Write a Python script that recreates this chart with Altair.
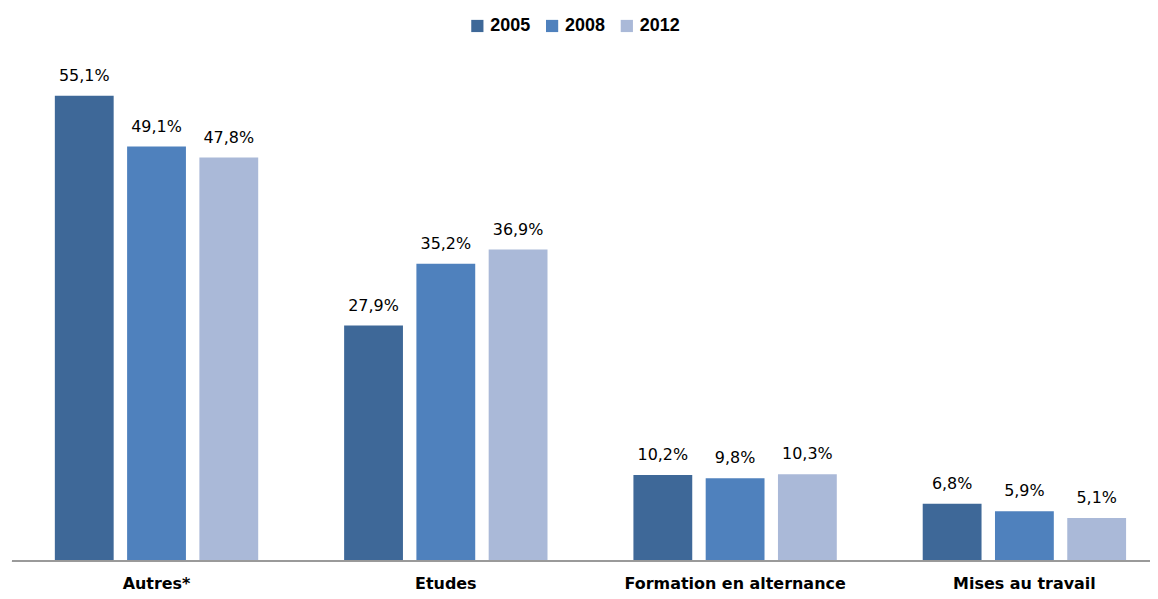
import altair as alt
import pandas as pd

categories = ["Autres*", "Etudes", "Formation en alternance", "Mises au travail"]
years = ["2005", "2008", "2012"]
values = {
    "2005": [55.1, 27.9, 10.2, 6.8],
    "2008": [49.1, 35.2, 9.8, 5.9],
    "2012": [47.8, 36.9, 10.3, 5.1],
}
colors = ["#3e6898", "#4f81bd", "#aab9d8"]

rows = []
for y in years:
    for c, v in zip(categories, values[y]):
        rows.append({"cat": c, "year": y, "val": v,
                     "label": f"{v:.1f}%".replace(".", ",")})
df = pd.DataFrame(rows)

base = alt.Chart(df).encode(
    x=alt.X("cat:N", sort=categories, title=None,
            scale=alt.Scale(paddingInner=0.297, paddingOuter=0, range=[43, 1118]),
            axis=alt.Axis(labelAngle=0, labelFont="DejaVu Sans", labelFontWeight="bold",
                          labelFontSize=16, labelColor="#000", ticks=False, domain=False,
                          labelPadding=14, labelLimit=400)),
    xOffset=alt.XOffset("year:N", sort=years,
                        scale=alt.Scale(paddingInner=0.186, paddingOuter=0)),
    y=alt.Y("val:Q", scale=alt.Scale(domain=[0, 61.6]), axis=None),
)

bars = base.mark_bar().encode(
    color=alt.Color("year:N", sort=years, scale=alt.Scale(domain=years, range=colors),
                    legend=alt.Legend(title=None, orient="none", direction="horizontal",
                                      legendX=458, legendY=-24, symbolType="square",
                                      symbolSize=150, symbolStrokeWidth=0,
                                      labelFont="Liberation Sans", labelFontWeight="bold",
                                      labelFontSize=18, labelColor="#000", columnPadding=12))
)
text = base.mark_text(dy=-20, font="DejaVu Sans", fontSize=16, color="#000").encode(text="label:N")

baseline = alt.Chart(df).mark_rule(color="#9a9a9a").encode(
    x=alt.value(0), x2=alt.value(1146), y=alt.value(522))

chart = (bars + text + baseline).properties(
    width=1142, height=522, autosize="none",
    padding={"left": 4, "top": 32, "right": 0, "bottom": 40},
).configure_view(stroke=None)

chart.save("out.html", embed_options={"renderer": "svg", "actions": False})
